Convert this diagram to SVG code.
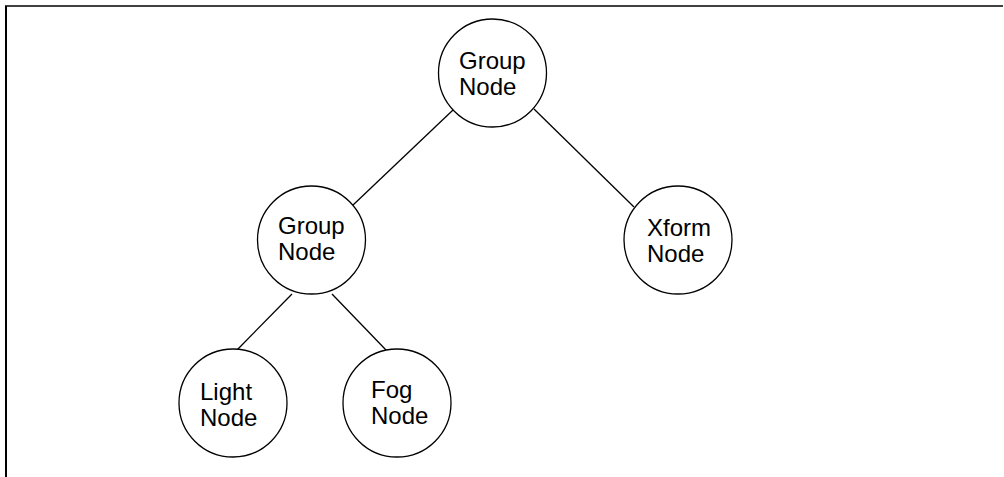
<svg xmlns="http://www.w3.org/2000/svg" width="1004" height="477" viewBox="0 0 1004 477">
<style>
.node circle{fill:#fff;stroke:#000;stroke-width:1.3}
.node text{font-family:"Liberation Sans",Arial,sans-serif;font-size:24px;fill:#000}
.edges line{stroke:#000;stroke-width:1.3}
.frame{stroke:#000;fill:none}
</style>
<rect width="1004" height="477" fill="#fff"/>
<line class="frame" x1="5" y1="6" x2="1003" y2="6" stroke-width="1.5"/>
<line class="frame" x1="6" y1="6" x2="6" y2="477" stroke-width="2"/>
<g class="edges">
<line x1="453" y1="110" x2="352" y2="206"/>
<line x1="534" y1="109" x2="634" y2="207"/>
<line x1="292" y1="294" x2="237" y2="350"/>
<line x1="332" y1="294" x2="386" y2="350"/>
</g>
<g class="node" id="n-root">
<circle cx="492.5" cy="73" r="54"/>
<text x="459" y="69">Group</text><text x="459" y="95">Node</text>
</g>
<g class="node" id="n-group">
<circle cx="311.5" cy="240" r="54"/>
<text x="278" y="234">Group</text><text x="278" y="260">Node</text>
</g>
<g class="node" id="n-xform">
<circle cx="678" cy="240" r="54"/>
<text x="647" y="236">Xform</text><text x="647" y="262">Node</text>
</g>
<g class="node" id="n-light">
<circle cx="233" cy="403" r="54"/>
<text x="200" y="400">Light</text><text x="200" y="426">Node</text>
</g>
<g class="node" id="n-fog">
<circle cx="397" cy="403" r="54"/>
<text x="371" y="398">Fog</text><text x="371" y="424">Node</text>
</g>
</svg>
